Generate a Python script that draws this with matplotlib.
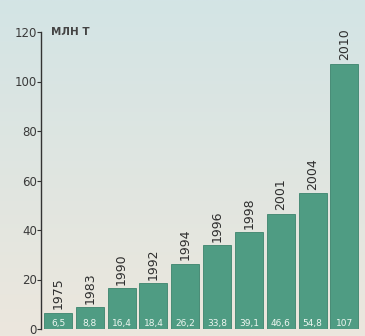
import matplotlib.pyplot as plt
import numpy as np
from matplotlib.colors import to_rgb

years = ['1975', '1983', '1990', '1992', '1994', '1996', '1998', '2001', '2004', '2010']
values = [6.5, 8.8, 16.4, 18.4, 26.2, 33.8, 39.1, 46.6, 54.8, 107]
value_labels = ['6,5', '8,8', '16,4', '18,4', '26,2', '33,8', '39,1', '46,6', '54,8', '107']
yticks = [0, 20, 40, 60, 80, 100, 120]

fig = plt.figure(figsize=(3.65, 3.36), dpi=100)

# soft paper-like background: bluish at top, warmer near the bottom
bg = fig.add_axes([0, 0, 1, 1])
top, bottom = np.array(to_rgb('#d3e4e5')), np.array(to_rgb('#ece7dd'))
t = np.linspace(0, 1, 200)[:, None, None]
bg.imshow(top * (1 - t) + bottom * t, aspect='auto', extent=[0, 1, 0, 1])
bg.axis('off')

ax = fig.add_axes([41 / 365, 7 / 336, 324 / 365, 297 / 336])
ax.set_facecolor('none')

x = list(range(len(years)))
ax.bar(x, values, width=0.88, color='#4f9c83', edgecolor='#3c846d', linewidth=0.6)

for xi, v, yr, lab in zip(x, values, years, value_labels):
    ax.text(xi, v + 1.5, yr, rotation=90, ha='center', va='bottom',
            fontsize=9, color='#2e2e2e')
    ax.text(xi, 0.6, lab, ha='center', va='bottom', fontsize=6.5,
            color='#eef7f1')

ax.set_xlim(-0.535, 9.65)
ax.set_ylim(0, 120)
ax.set_yticks(yticks)
ax.tick_params(axis='y', direction='out', length=3, width=0.8,
               labelsize=8.5, labelcolor='#3a3a3a', color='#333333', pad=0)
ax.set_xticks([])
for side in ['top', 'right', 'bottom']:
    ax.spines[side].set_visible(False)
ax.spines['left'].set_color('#333333')
ax.spines['left'].set_linewidth(1)

ax.text(0.03, 120, 'МЛН Т', transform=ax.get_yaxis_transform(),
        ha='left', va='center', fontsize=7.5, fontweight='bold', color='#444444')

fig.savefig('out.png', dpi=100)
